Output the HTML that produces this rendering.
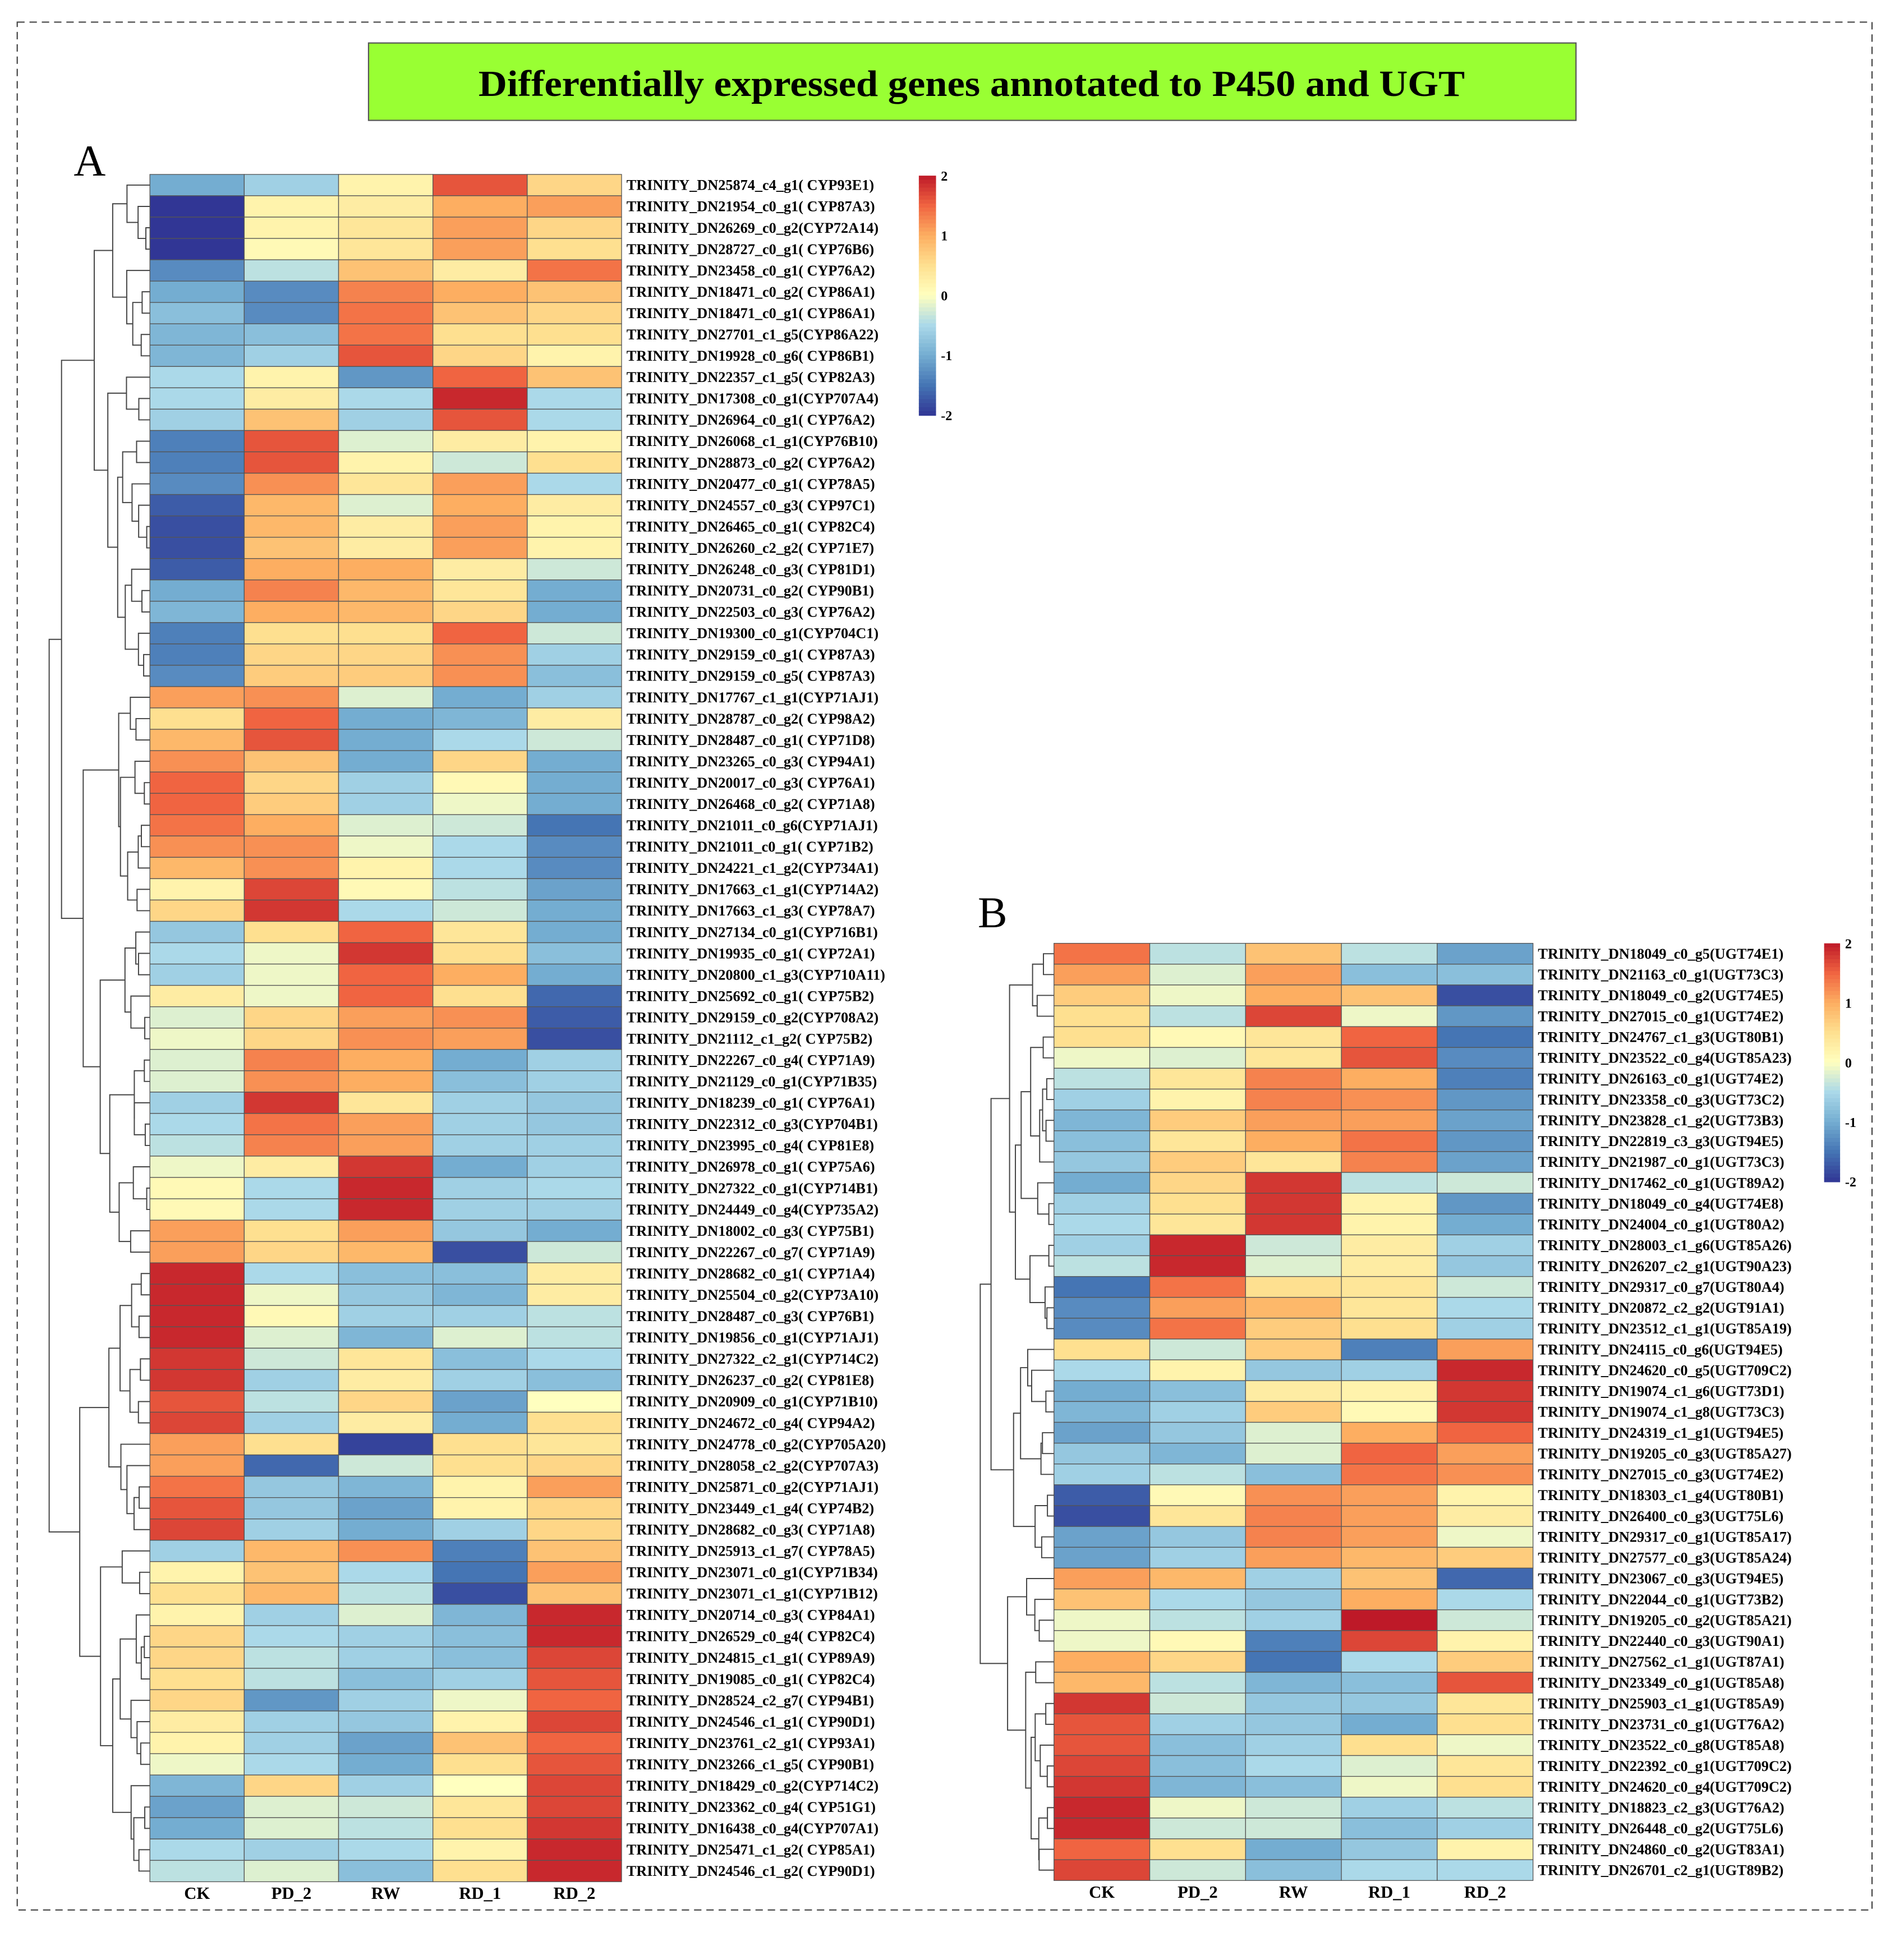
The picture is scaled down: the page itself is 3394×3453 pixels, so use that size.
<!DOCTYPE html>
<html><head><meta charset="utf-8"><style>
html,body{margin:0;padding:0;background:#fff;}
svg{display:block;}
text{font-family:"Liberation Serif",serif;font-weight:bold;}
</style></head><body>
<svg id="fig" width="3394" height="3453" viewBox="0 0 1550 1577" xmlns="http://www.w3.org/2000/svg">
<rect x="14" y="18" width="1510" height="1537" fill="none" stroke="#444" stroke-width="1" stroke-dasharray="6,4"/>
<rect x="300" y="35" width="983" height="63" fill="#99ff33" stroke="#555" stroke-width="1"/>
<text x="791" y="78" text-anchor="middle" font-size="30" textLength="803" lengthAdjust="spacingAndGlyphs">Differentially expressed genes annotated to P450 and UGT</text>
<text x="60" y="143" font-size="36" style="font-weight:normal">A</text>
<text x="796" y="755" font-size="36" style="font-weight:normal">B</text>
<g id="root"></g>
</svg>
<script>
const conditions = ["CK","PD_2","RW","RD_1","RD_2"];
const genesA = ["TRINITY_DN25874_c4_g1( CYP93E1)","TRINITY_DN21954_c0_g1( CYP87A3)","TRINITY_DN26269_c0_g2(CYP72A14)","TRINITY_DN28727_c0_g1( CYP76B6)","TRINITY_DN23458_c0_g1( CYP76A2)","TRINITY_DN18471_c0_g2( CYP86A1)","TRINITY_DN18471_c0_g1( CYP86A1)","TRINITY_DN27701_c1_g5(CYP86A22)","TRINITY_DN19928_c0_g6( CYP86B1)","TRINITY_DN22357_c1_g5( CYP82A3)","TRINITY_DN17308_c0_g1(CYP707A4)","TRINITY_DN26964_c0_g1( CYP76A2)","TRINITY_DN26068_c1_g1(CYP76B10)","TRINITY_DN28873_c0_g2( CYP76A2)","TRINITY_DN20477_c0_g1( CYP78A5)","TRINITY_DN24557_c0_g3( CYP97C1)","TRINITY_DN26465_c0_g1( CYP82C4)","TRINITY_DN26260_c2_g2( CYP71E7)","TRINITY_DN26248_c0_g3( CYP81D1)","TRINITY_DN20731_c0_g2( CYP90B1)","TRINITY_DN22503_c0_g3( CYP76A2)","TRINITY_DN19300_c0_g1(CYP704C1)","TRINITY_DN29159_c0_g1( CYP87A3)","TRINITY_DN29159_c0_g5( CYP87A3)","TRINITY_DN17767_c1_g1(CYP71AJ1)","TRINITY_DN28787_c0_g2( CYP98A2)","TRINITY_DN28487_c0_g1( CYP71D8)","TRINITY_DN23265_c0_g3( CYP94A1)","TRINITY_DN20017_c0_g3( CYP76A1)","TRINITY_DN26468_c0_g2( CYP71A8)","TRINITY_DN21011_c0_g6(CYP71AJ1)","TRINITY_DN21011_c0_g1( CYP71B2)","TRINITY_DN24221_c1_g2(CYP734A1)","TRINITY_DN17663_c1_g1(CYP714A2)","TRINITY_DN17663_c1_g3( CYP78A7)","TRINITY_DN27134_c0_g1(CYP716B1)","TRINITY_DN19935_c0_g1( CYP72A1)","TRINITY_DN20800_c1_g3(CYP710A11)","TRINITY_DN25692_c0_g1( CYP75B2)","TRINITY_DN29159_c0_g2(CYP708A2)","TRINITY_DN21112_c1_g2( CYP75B2)","TRINITY_DN22267_c0_g4( CYP71A9)","TRINITY_DN21129_c0_g1(CYP71B35)","TRINITY_DN18239_c0_g1( CYP76A1)","TRINITY_DN22312_c0_g3(CYP704B1)","TRINITY_DN23995_c0_g4( CYP81E8)","TRINITY_DN26978_c0_g1( CYP75A6)","TRINITY_DN27322_c0_g1(CYP714B1)","TRINITY_DN24449_c0_g4(CYP735A2)","TRINITY_DN18002_c0_g3( CYP75B1)","TRINITY_DN22267_c0_g7( CYP71A9)","TRINITY_DN28682_c0_g1( CYP71A4)","TRINITY_DN25504_c0_g2(CYP73A10)","TRINITY_DN28487_c0_g3( CYP76B1)","TRINITY_DN19856_c0_g1(CYP71AJ1)","TRINITY_DN27322_c2_g1(CYP714C2)","TRINITY_DN26237_c0_g2( CYP81E8)","TRINITY_DN20909_c0_g1(CYP71B10)","TRINITY_DN24672_c0_g4( CYP94A2)","TRINITY_DN24778_c0_g2(CYP705A20)","TRINITY_DN28058_c2_g2(CYP707A3)","TRINITY_DN25871_c0_g2(CYP71AJ1)","TRINITY_DN23449_c1_g4( CYP74B2)","TRINITY_DN28682_c0_g3( CYP71A8)","TRINITY_DN25913_c1_g7( CYP78A5)","TRINITY_DN23071_c0_g1(CYP71B34)","TRINITY_DN23071_c1_g1(CYP71B12)","TRINITY_DN20714_c0_g3( CYP84A1)","TRINITY_DN26529_c0_g4( CYP82C4)","TRINITY_DN24815_c1_g1( CYP89A9)","TRINITY_DN19085_c0_g1( CYP82C4)","TRINITY_DN28524_c2_g7( CYP94B1)","TRINITY_DN24546_c1_g1( CYP90D1)","TRINITY_DN23761_c2_g1( CYP93A1)","TRINITY_DN23266_c1_g5( CYP90B1)","TRINITY_DN18429_c0_g2(CYP714C2)","TRINITY_DN23362_c0_g4( CYP51G1)","TRINITY_DN16438_c0_g4(CYP707A1)","TRINITY_DN25471_c1_g2( CYP85A1)","TRINITY_DN24546_c1_g2( CYP90D1)"];
const valuesA = [
[-1,-0.6,0.2,1.6,0.6],[-2,0.2,0.3,1.0,1.1],[-2,0.2,0.4,1.1,0.6],[-2,0.1,0.4,1.1,0.5],[-1.3,-0.4,0.8,0.3,1.4],
[-1,-1.3,1.3,1.0,0.8],[-0.8,-1.3,1.4,0.8,0.6],[-0.9,-0.8,1.4,0.5,0.5],[-0.9,-0.6,1.6,0.6,0.2],[-0.5,0.2,-1.2,1.5,0.8],
[-0.5,0.3,-0.5,1.9,-0.5],[-0.6,0.8,-0.6,1.6,-0.5],[-1.4,1.6,-0.2,0.3,0.2],[-1.4,1.6,0.2,-0.3,0.5],[-1.3,1.2,0.4,1.1,-0.5],
[-1.7,0.9,-0.2,1.0,0.3],[-1.8,0.9,0.3,1.1,0.2],[-1.8,0.8,0.3,1.1,0.2],[-1.7,1.0,1.0,0.3,-0.3],[-1,1.3,0.9,0.4,-1.0],
[-0.9,1.0,0.9,0.6,-1.0],[-1.4,0.5,0.5,1.5,-0.3],[-1.4,0.6,0.6,1.2,-0.6],[-1.3,0.7,0.7,1.2,-0.8],[1.1,1.2,-0.2,-1.0,-0.6],
[0.5,1.5,-1.0,-0.9,0.3],[0.9,1.6,-1.0,-0.5,-0.3],[1.2,0.8,-1.0,0.6,-1.0],[1.5,0.6,-0.6,0.1,-1.0],[1.5,0.7,-0.6,-0.1,-1.0],
[1.4,1.0,-0.2,-0.3,-1.5],[1.2,1.2,-0.1,-0.5,-1.3],[0.9,1.2,0.2,-0.5,-1.3],[0.2,1.7,0.1,-0.4,-1.1],[0.6,1.8,-0.5,-0.3,-1.0],
[-0.7,0.5,1.5,0.4,-1.0],[-0.5,-0.1,1.8,0.5,-0.8],[-0.6,-0.1,1.5,1.0,-1.0],[0.3,-0.1,1.5,0.5,-1.6],[-0.2,0.6,1.1,1.2,-1.7],
[-0.1,0.6,1.2,1.1,-1.8],[-0.2,1.3,1.0,-1.0,-0.6],[-0.2,1.2,1.0,-0.8,-0.6],[-0.6,1.8,0.4,-0.6,-0.7],[-0.5,1.4,1.1,-0.6,-0.7],
[-0.4,1.3,1.1,-0.6,-0.6],[-0.1,0.3,1.8,-1.0,-0.6],[0.1,-0.5,1.9,-0.6,-0.5],[0.1,-0.5,1.9,-0.6,-0.6],[1.1,0.5,1.1,-0.7,-1.0],
[1.1,0.6,0.9,-1.8,-0.3],[1.9,-0.5,-0.8,-0.8,0.3],[1.9,-0.1,-0.7,-0.9,0.3],[1.9,0.1,-0.6,-0.6,-0.4],[1.9,-0.2,-0.9,-0.2,-0.4],
[1.8,-0.3,0.4,-0.8,-0.5],[1.8,-0.6,0.3,-0.6,-0.8],[1.6,-0.4,0.6,-1.1,0.0],[1.7,-0.6,0.3,-1.0,0.5],[1.1,0.5,-1.9,0.5,0.4],
[1.1,-1.6,-0.3,0.5,0.6],[1.4,-0.7,-0.9,0.2,1.1],[1.6,-0.7,-1.1,0.2,0.6],[1.7,-0.6,-1.0,-0.6,0.6],[-0.6,0.9,1.2,-1.4,0.8],
[0.2,0.8,-0.5,-1.5,1.1],[0.5,0.9,-0.4,-1.8,0.8],[0.2,-0.6,-0.2,-0.9,1.9],[0.6,-0.5,-0.6,-0.8,1.9],[0.6,-0.4,-0.6,-0.8,1.7],
[0.5,-0.4,-0.8,-0.6,1.6],[0.6,-1.2,-0.6,-0.1,1.5],[0.3,-0.6,-0.7,0.2,1.7],[0.2,-0.6,-1.1,0.8,1.5],[-0.1,-0.5,-1.0,0.5,1.6],
[-0.9,0.6,-0.6,0.0,1.7],[-1.1,-0.2,-0.3,0.4,1.7],[-1.0,-0.2,-0.4,0.5,1.8],[-0.5,-0.6,-0.5,0.2,1.9],[-0.4,-0.2,-0.8,0.5,1.9]];
const genesB = ["TRINITY_DN18049_c0_g5(UGT74E1)","TRINITY_DN21163_c0_g1(UGT73C3)","TRINITY_DN18049_c0_g2(UGT74E5)","TRINITY_DN27015_c0_g1(UGT74E2)","TRINITY_DN24767_c1_g3(UGT80B1)","TRINITY_DN23522_c0_g4(UGT85A23)","TRINITY_DN26163_c0_g1(UGT74E2)","TRINITY_DN23358_c0_g3(UGT73C2)","TRINITY_DN23828_c1_g2(UGT73B3)","TRINITY_DN22819_c3_g3(UGT94E5)","TRINITY_DN21987_c0_g1(UGT73C3)","TRINITY_DN17462_c0_g1(UGT89A2)","TRINITY_DN18049_c0_g4(UGT74E8)","TRINITY_DN24004_c0_g1(UGT80A2)","TRINITY_DN28003_c1_g6(UGT85A26)","TRINITY_DN26207_c2_g1(UGT90A23)","TRINITY_DN29317_c0_g7(UGT80A4)","TRINITY_DN20872_c2_g2(UGT91A1)","TRINITY_DN23512_c1_g1(UGT85A19)","TRINITY_DN24115_c0_g6(UGT94E5)","TRINITY_DN24620_c0_g5(UGT709C2)","TRINITY_DN19074_c1_g6(UGT73D1)","TRINITY_DN19074_c1_g8(UGT73C3)","TRINITY_DN24319_c1_g1(UGT94E5)","TRINITY_DN19205_c0_g3(UGT85A27)","TRINITY_DN27015_c0_g3(UGT74E2)","TRINITY_DN18303_c1_g4(UGT80B1)","TRINITY_DN26400_c0_g3(UGT75L6)","TRINITY_DN29317_c0_g1(UGT85A17)","TRINITY_DN27577_c0_g3(UGT85A24)","TRINITY_DN23067_c0_g3(UGT94E5)","TRINITY_DN22044_c0_g1(UGT73B2)","TRINITY_DN19205_c0_g2(UGT85A21)","TRINITY_DN22440_c0_g3(UGT90A1)","TRINITY_DN27562_c1_g1(UGT87A1)","TRINITY_DN23349_c0_g1(UGT85A8)","TRINITY_DN25903_c1_g1(UGT85A9)","TRINITY_DN23731_c0_g1(UGT76A2)","TRINITY_DN23522_c0_g8(UGT85A8)","TRINITY_DN22392_c0_g1(UGT709C2)","TRINITY_DN24620_c0_g4(UGT709C2)","TRINITY_DN18823_c2_g3(UGT76A2)","TRINITY_DN26448_c0_g2(UGT75L6)","TRINITY_DN24860_c0_g2(UGT83A1)","TRINITY_DN26701_c2_g1(UGT89B2)"];
const valuesB = [
[1.4,-0.4,0.8,-0.4,-1.1],[1.1,-0.2,1.1,-0.8,-0.8],[0.7,-0.1,1.0,0.8,-1.8],[0.5,-0.4,1.7,-0.1,-1.2],[0.5,0.1,0.4,1.5,-1.5],
[-0.1,-0.2,0.4,1.6,-1.3],[-0.4,0.4,1.3,1.0,-1.4],[-0.6,0.2,1.3,1.2,-1.2],[-0.9,0.7,1.1,1.1,-1.1],[-0.8,0.4,1.0,1.4,-1.2],
[-0.7,0.7,0.4,1.3,-1.1],[-1.0,0.6,1.8,-0.4,-0.3],[-0.6,0.5,1.8,0.2,-1.2],[-0.5,0.4,1.8,0.2,-1.0],[-0.6,1.9,-0.3,0.3,-0.6],
[-0.4,1.9,-0.2,0.3,-0.7],[-1.5,1.4,0.5,0.4,-0.3],[-1.3,1.1,0.9,0.4,-0.5],[-1.3,1.4,0.7,0.5,-0.6],[0.5,-0.3,0.7,-1.4,1.1],
[-0.5,0.2,-0.7,-0.6,1.9],[-1.0,-0.8,0.3,0.2,1.8],[-0.9,-0.6,0.7,0.1,1.8],[-1.1,-0.7,-0.2,1.0,1.5],[-0.7,-0.9,-0.2,1.5,1.1],
[-0.6,-0.4,-0.8,1.4,1.2],[-1.7,0.1,1.2,1.1,0.2],[-1.8,0.4,1.3,1.1,0.3],[-1.1,-0.7,1.3,1.1,-0.1],[-1.1,-0.6,1.1,0.9,0.7],
[1.1,0.9,-0.6,0.8,-1.6],[0.8,-0.5,-0.7,1.0,-0.5],[-0.1,-0.4,-0.6,2.0,-0.3],[-0.1,0.1,-1.4,1.7,0.2],[1.0,0.6,-1.5,-0.5,0.7],
[0.9,-0.4,-0.9,-0.8,1.6],[1.8,-0.3,-0.7,-0.7,0.4],[1.6,-0.6,-0.7,-1.0,0.5],[1.6,-0.8,-0.6,0.5,-0.1],[1.7,-0.8,-0.5,-0.2,0.4],
[1.8,-0.9,-0.8,-0.1,0.5],[1.9,-0.1,-0.3,-0.6,-0.4],[1.9,-0.3,-0.3,-0.8,-0.6],[1.5,0.5,-1.0,-0.7,0.2],[1.7,-0.3,-0.8,-0.5,-0.5]];
const colorTicks = [2,1,0,-1,-2];

const NS="http://www.w3.org/2000/svg";
const root=document.getElementById('root');
const stops=[[-2,[49,54,149]],[-1.5,[69,117,180]],[-1,[116,173,209]],[-0.5,[171,217,233]],[0,[255,255,191]],[0.5,[254,224,144]],[1,[253,174,97]],[1.5,[240,100,65]],[2,[190,25,40]]];
function col(v){v=Math.max(-2,Math.min(2,v));for(let i=0;i<stops.length-1;i++){const a=stops[i],b=stops[i+1];if(v<=b[0]){const t=(v-a[0])/(b[0]-a[0]);const c=a[1].map((x,k)=>Math.round(x+(b[1][k]-x)*t));return `rgb(${c})`;}}return 'rgb(190,25,40)';}
function mk(tag,attrs,parent){const e=document.createElementNS(NS,tag);for(const k in attrs)e.setAttribute(k,attrs[k]);(parent||root).appendChild(e);return e;}

function heatmap(p){
  const g=mk('g',{});
  
  
  const n=p.vals.length, rh=(p.y1-p.y0)/n, cw=(p.x1-p.x0)/conditions.length;
  const ys=i=>p.y0+i*rh, xs=j=>p.x0+j*cw;
  p.vals.forEach((row,i)=>{
    row.forEach((v,j)=>{
      const r=mk('rect',{x:xs(j),y:ys(i),width:cw,height:rh,fill:col(v),stroke:'#555','stroke-width':0.6},g);
      
      
    });
    const t=mk('text',{x:p.x1+4,y:ys(i)+rh/2+4,'font-size':12},g);
    
    
    t.textContent=p.genes[i];
  });
  conditions.forEach((c,j)=>{
    const t=mk('text',{x:xs(j)+cw/2,y:p.y1+14,'font-size':14,'text-anchor':'middle'},g);
    
    
    t.textContent=c;
  });
  const dg=mk('g',{stroke:'#444','stroke-width':0.9,fill:'none'},g);
  
  
  let cl=p.vals.map((r,i)=>({m:r.slice(),n:1,y:ys(i)+rh/2,h:0}));
  const merges=[];
  const dist=(a,b)=>Math.sqrt(a.m.reduce((s,x,k)=>s+(x-b.m[k])**2,0)*a.n*b.n/(a.n+b.n));
  while(cl.length>1){
    let bi=0,bd=Infinity;
    for(let i=0;i<cl.length-1;i++){const d=dist(cl[i],cl[i+1]);if(d<bd){bd=d;bi=i;}}
    const a=cl[bi],b=cl[bi+1];
    const h=Math.max(bd,a.h,b.h);
    const c={m:a.m.map((x,k)=>(x*a.n+b.m[k]*b.n)/(a.n+b.n)),n:a.n+b.n,y:(a.y+b.y)/2,h:h};
    merges.push([a,b,c]);
    cl.splice(bi,2,c);
  }
  const maxH=cl[0].h, hx=h=>p.x0-Math.pow(h/maxH,0.7)*(p.x0-p.dx);
  merges.forEach(([a,b,c])=>{
    const x=hx(c.h);
    const l=mk('path',{d:`M${hx(a.h)},${a.y}H${x}V${b.y}H${hx(b.h)}`},dg);
    
    
  });
  const cb=mk('g',{},g);
  
  
  const steps=60,ch=(p.cb[3]-p.cb[1])/steps;
  for(let s=0;s<steps;s++){
    const v=2-4*(s+0.5)/steps;
    mk('rect',{x:p.cb[0],y:p.cb[1]+s*ch,width:p.cb[2],height:ch+0.5,fill:col(v)},cb);
  }
  colorTicks.forEach(v=>{
    const y=p.cb[1]+(2-v)/4*(p.cb[3]-p.cb[1]);
    const t=mk('text',{x:p.cb[0]+p.cb[2]+4,y:y+4,'font-size':11},cb);
    
    
    t.textContent=v;
  });
}
heatmap({name:'heatmap-p450',vals:valuesA,genes:genesA,x0:122,x1:506,y0:142,y1:1532,dx:40,cb:[748,143,14,338]});
heatmap({name:'heatmap-ugt',vals:valuesB,genes:genesB,x0:858,x1:1248,y0:768,y1:1531,dx:798,cb:[1485,768,13,962]});
</script>
</body></html>
